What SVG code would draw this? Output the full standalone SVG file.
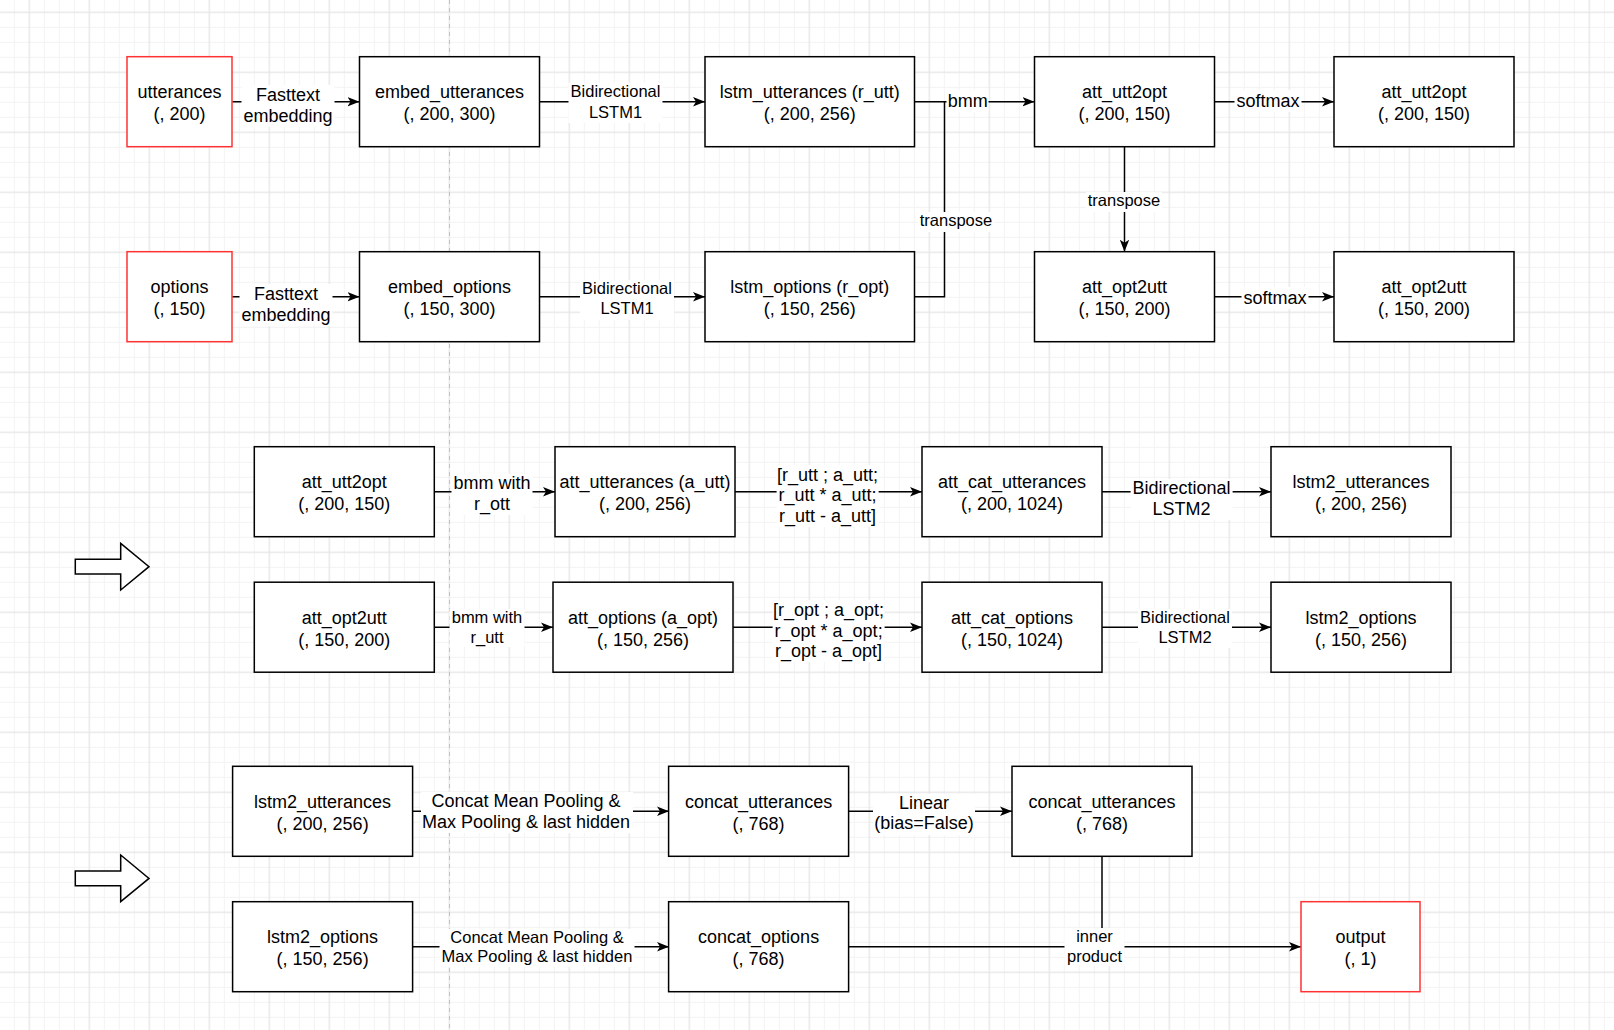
<svg xmlns="http://www.w3.org/2000/svg" width="1614" height="1030" viewBox="0 0 1614 1030">
<style>
.box{fill:#fff;stroke:#000;stroke-width:1.5}
.red{fill:#fff;stroke:#ff3333;stroke-width:1.5}
.t{font-family:"Liberation Sans",Arial,Helvetica,sans-serif;font-size:18px;fill:#000;text-anchor:middle}
.s{font-size:16.5px}
.e{fill:none;stroke:#000;stroke-width:1.5}
.lb{fill:#fff;stroke:none}
.blk{fill:#fff;stroke:#000;stroke-width:1.5;stroke-linejoin:miter}
</style>
<defs>
<pattern id="gmin" patternUnits="userSpaceOnUse" x="6.8" y="4.8" width="15" height="15">
<path d="M7.5 0V15M0 7.5H15" stroke="#f3f3f3" stroke-width="1" fill="none"/>
</pattern>
<pattern id="gmaj" patternUnits="userSpaceOnUse" x="-0.7" y="-17.7" width="60" height="60">
<path d="M30 0V60M0 30H60" stroke="#e4e4e4" stroke-width="1" fill="none"/>
</pattern>
<marker id="arr" markerUnits="userSpaceOnUse" markerWidth="12" markerHeight="10" viewBox="0 0 12 10" refX="12" refY="5" orient="auto">
<path d="M0,0.3L12,5L0,9.7L3,5Z" fill="#000"/>
</marker>
</defs>
<rect width="1614" height="1030" fill="#fff"/>
<rect width="1614" height="1030" fill="url(#gmin)"/>
<rect width="1614" height="1030" fill="url(#gmaj)"/>
<line x1="449.5" y1="0" x2="449.5" y2="1030" stroke="#c2c2c2" stroke-width="1" stroke-dasharray="4 4"/>

<g id="block-arrows">
<path class="blk" d="M75.3,559.3H120.7V543.3L149,566.7L120.7,590V574H75.3Z"/>
<path class="blk" d="M75.3,871H120.7V855L149,878.4L120.7,901.7V885.7H75.3Z"/>
</g>

<g id="connectors">
<!-- row 1 -->
<line class="e" x1="232.3" y1="101.7" x2="359.5" y2="101.7" marker-end="url(#arr)"/>
<line class="e" x1="539.5" y1="101.7" x2="705" y2="101.7" marker-end="url(#arr)"/>
<line class="e" x1="914" y1="101.7" x2="1034.5" y2="101.7" marker-end="url(#arr)"/>
<polyline class="e" points="914,296.7 944.5,296.7 944.5,101.7"/>
<line class="e" x1="1214.5" y1="101.7" x2="1334" y2="101.7" marker-end="url(#arr)"/>
<line class="e" x1="1124.5" y1="146.7" x2="1124.5" y2="251.7" marker-end="url(#arr)"/>
<line class="e" x1="1214.5" y1="296.7" x2="1334" y2="296.7" marker-end="url(#arr)"/>
<!-- row 2 -->
<line class="e" x1="232.3" y1="296.7" x2="359.5" y2="296.7" marker-end="url(#arr)"/>
<line class="e" x1="539.5" y1="296.7" x2="705" y2="296.7" marker-end="url(#arr)"/>
<!-- row 3 -->
<line class="e" x1="434" y1="491.7" x2="555" y2="491.7" marker-end="url(#arr)"/>
<line class="e" x1="735" y1="491.7" x2="922" y2="491.7" marker-end="url(#arr)"/>
<line class="e" x1="1102" y1="491.7" x2="1271" y2="491.7" marker-end="url(#arr)"/>
<!-- row 4 -->
<line class="e" x1="434" y1="627.2" x2="553" y2="627.2" marker-end="url(#arr)"/>
<line class="e" x1="733" y1="627.2" x2="922" y2="627.2" marker-end="url(#arr)"/>
<line class="e" x1="1102" y1="627.2" x2="1271" y2="627.2" marker-end="url(#arr)"/>
<!-- row 5 -->
<line class="e" x1="412.6" y1="811.3" x2="669" y2="811.3" marker-end="url(#arr)"/>
<line class="e" x1="848.6" y1="811.3" x2="1012" y2="811.3" marker-end="url(#arr)"/>
<!-- row 6 -->
<line class="e" x1="412.6" y1="946.7" x2="669" y2="946.7" marker-end="url(#arr)"/>
<line class="e" x1="848.6" y1="946.7" x2="1301" y2="946.7" marker-end="url(#arr)"/>
<line class="e" x1="1102" y1="856.3" x2="1102" y2="946.7"/>

<!-- labels -->
<rect class="lb" x="241.5" y="85" width="93" height="42"/>
<text class="t" x="288" y="100.5">Fasttext</text><text class="t" x="288" y="121.5">embedding</text>
<rect class="lb" x="568.5" y="83" width="94" height="40"/>
<text class="t s" x="615.5" y="97.3">Bidirectional</text><text class="t s" x="615.5" y="118.3">LSTM1</text>
<rect class="lb" x="946.5" y="90" width="42" height="22"/>
<text class="t" x="967.7" y="107">bmm</text>
<rect class="lb" x="918" y="212" width="76" height="20"/>
<text class="t s" x="956" y="226">transpose</text>
<rect class="lb" x="1234.5" y="90" width="67" height="22"/>
<text class="t" x="1268" y="107">softmax</text>
<rect class="lb" x="1086" y="192" width="76" height="20"/>
<text class="t s" x="1124" y="205.7">transpose</text>
<rect class="lb" x="1241.5" y="287" width="67" height="22"/>
<text class="t" x="1275" y="304">softmax</text>

<rect class="lb" x="239.5" y="284" width="93" height="42"/>
<text class="t" x="286" y="299.6">Fasttext</text><text class="t" x="286" y="320.5">embedding</text>
<rect class="lb" x="580" y="280" width="94" height="40"/>
<text class="t s" x="627" y="294">Bidirectional</text><text class="t s" x="627" y="314">LSTM1</text>

<rect class="lb" x="451.5" y="474" width="81" height="41"/>
<text class="t" x="492" y="489">bmm with</text><text class="t" x="492" y="510">r_ott</text>
<rect class="lb" x="776.6" y="465" width="102" height="62"/>
<text class="t" x="827.6" y="480.5">[r_utt ; a_utt;</text><text class="t" x="827.6" y="501">r_utt * a_utt;</text><text class="t" x="827.6" y="521.5">r_utt - a_utt]</text>
<rect class="lb" x="1130.6" y="479" width="102" height="41"/>
<text class="t" x="1181.6" y="494">Bidirectional</text><text class="t" x="1181.6" y="514.5">LSTM2</text>

<rect class="lb" x="449.5" y="609" width="75" height="38"/>
<text class="t s" x="487" y="623">bmm with</text><text class="t s" x="487" y="642.5">r_utt</text>
<rect class="lb" x="772.6" y="600" width="112" height="62"/>
<text class="t" x="828.6" y="616">[r_opt ; a_opt;</text><text class="t" x="828.6" y="636.5">r_opt * a_opt;</text><text class="t" x="828.6" y="657">r_opt - a_opt]</text>
<rect class="lb" x="1138" y="609" width="94" height="39"/>
<text class="t s" x="1185" y="623.2">Bidirectional</text><text class="t s" x="1185" y="643">LSTM2</text>

<rect class="lb" x="421" y="792" width="212" height="41"/>
<text class="t" x="526" y="807">Concat Mean Pooling &amp;</text><text class="t" x="526" y="827.5">Max Pooling &amp; last hidden</text>
<rect class="lb" x="873" y="794" width="102" height="41"/>
<text class="t" x="924" y="809">Linear</text><text class="t" x="924" y="829">(bias=False)</text>

<rect class="lb" x="439.5" y="929" width="195" height="38"/>
<text class="t s" x="537" y="943">Concat Mean Pooling &amp;</text><text class="t s" x="537" y="962">Max Pooling &amp; last hidden</text>
<rect class="lb" x="1064.5" y="928" width="60" height="38"/>
<text class="t s" x="1094.5" y="942">inner</text><text class="t s" x="1094.5" y="961.5">product</text>
</g>

<g id="n-utterances"><rect class="red" x="127" y="56.7" width="105" height="90"/><text class="t" x="179.5" y="98.4">utterances</text><text class="t" x="179.5" y="120">(, 200)</text></g>
<g id="n-embed-utterances"><rect class="box" x="359.5" y="56.7" width="180" height="90"/><text class="t" x="449.5" y="98.4">embed_utterances</text><text class="t" x="449.5" y="120">(, 200, 300)</text></g>
<g id="n-lstm-utterances"><rect class="box" x="705" y="56.7" width="209.5" height="90"/><text class="t" x="809.7" y="98.4">lstm_utterances (r_utt)</text><text class="t" x="809.7" y="120">(, 200, 256)</text></g>
<g id="n-att-utt2opt"><rect class="box" x="1034.5" y="56.7" width="180" height="90"/><text class="t" x="1124.5" y="98.4">att_utt2opt</text><text class="t" x="1124.5" y="120">(, 200, 150)</text></g>
<g id="n-att-utt2opt-sm"><rect class="box" x="1334" y="56.7" width="180" height="90"/><text class="t" x="1424" y="98.4">att_utt2opt</text><text class="t" x="1424" y="120">(, 200, 150)</text></g>

<g id="n-options"><rect class="red" x="127" y="251.7" width="105" height="90"/><text class="t" x="179.5" y="293.4">options</text><text class="t" x="179.5" y="315">(, 150)</text></g>
<g id="n-embed-options"><rect class="box" x="359.5" y="251.7" width="180" height="90"/><text class="t" x="449.5" y="293.4">embed_options</text><text class="t" x="449.5" y="315">(, 150, 300)</text></g>
<g id="n-lstm-options"><rect class="box" x="705" y="251.7" width="209.5" height="90"/><text class="t" x="809.7" y="293.4">lstm_options (r_opt)</text><text class="t" x="809.7" y="315">(, 150, 256)</text></g>
<g id="n-att-opt2utt"><rect class="box" x="1034.5" y="251.7" width="180" height="90"/><text class="t" x="1124.5" y="293.4">att_opt2utt</text><text class="t" x="1124.5" y="315">(, 150, 200)</text></g>
<g id="n-att-opt2utt-sm"><rect class="box" x="1334" y="251.7" width="180" height="90"/><text class="t" x="1424" y="293.4">att_opt2utt</text><text class="t" x="1424" y="315">(, 150, 200)</text></g>

<g id="n-att-utt2opt-b"><rect class="box" x="254.3" y="446.7" width="180" height="90"/><text class="t" x="344.3" y="488.4">att_utt2opt</text><text class="t" x="344.3" y="510">(, 200, 150)</text></g>
<g id="n-att-utterances"><rect class="box" x="555" y="446.7" width="180" height="90"/><text class="t" x="645" y="488.4">att_utterances (a_utt)</text><text class="t" x="645" y="510">(, 200, 256)</text></g>
<g id="n-att-cat-utterances"><rect class="box" x="922" y="446.7" width="180" height="90"/><text class="t" x="1012" y="488.4">att_cat_utterances</text><text class="t" x="1012" y="510">(, 200, 1024)</text></g>
<g id="n-lstm2-utterances"><rect class="box" x="1271" y="446.7" width="180" height="90"/><text class="t" x="1361" y="488.4">lstm2_utterances</text><text class="t" x="1361" y="510">(, 200, 256)</text></g>

<g id="n-att-opt2utt-b"><rect class="box" x="254.3" y="582.2" width="180" height="90"/><text class="t" x="344.3" y="623.9">att_opt2utt</text><text class="t" x="344.3" y="645.5">(, 150, 200)</text></g>
<g id="n-att-options"><rect class="box" x="553" y="582.2" width="180" height="90"/><text class="t" x="643" y="623.9">att_options (a_opt)</text><text class="t" x="643" y="645.5">(, 150, 256)</text></g>
<g id="n-att-cat-options"><rect class="box" x="922" y="582.2" width="180" height="90"/><text class="t" x="1012" y="623.9">att_cat_options</text><text class="t" x="1012" y="645.5">(, 150, 1024)</text></g>
<g id="n-lstm2-options"><rect class="box" x="1271" y="582.2" width="180" height="90"/><text class="t" x="1361" y="623.9">lstm2_options</text><text class="t" x="1361" y="645.5">(, 150, 256)</text></g>

<g id="n-lstm2-utterances-c"><rect class="box" x="232.6" y="766.3" width="180" height="90"/><text class="t" x="322.6" y="808">lstm2_utterances</text><text class="t" x="322.6" y="829.6">(, 200, 256)</text></g>
<g id="n-concat-utterances"><rect class="box" x="668.6" y="766.3" width="180" height="90"/><text class="t" x="758.6" y="808">concat_utterances</text><text class="t" x="758.6" y="829.6">(, 768)</text></g>
<g id="n-concat-utterances-lin"><rect class="box" x="1012" y="766.3" width="180" height="90"/><text class="t" x="1102" y="808">concat_utterances</text><text class="t" x="1102" y="829.6">(, 768)</text></g>

<g id="n-lstm2-options-c"><rect class="box" x="232.6" y="901.7" width="180" height="90"/><text class="t" x="322.6" y="943.4">lstm2_options</text><text class="t" x="322.6" y="965">(, 150, 256)</text></g>
<g id="n-concat-options"><rect class="box" x="668.6" y="901.7" width="180" height="90"/><text class="t" x="758.6" y="943.4">concat_options</text><text class="t" x="758.6" y="965">(, 768)</text></g>
<g id="n-output"><rect class="red" x="1301" y="901.7" width="119" height="90"/><text class="t" x="1360.5" y="943.4">output</text><text class="t" x="1360.5" y="965">(, 1)</text></g>
</svg>
